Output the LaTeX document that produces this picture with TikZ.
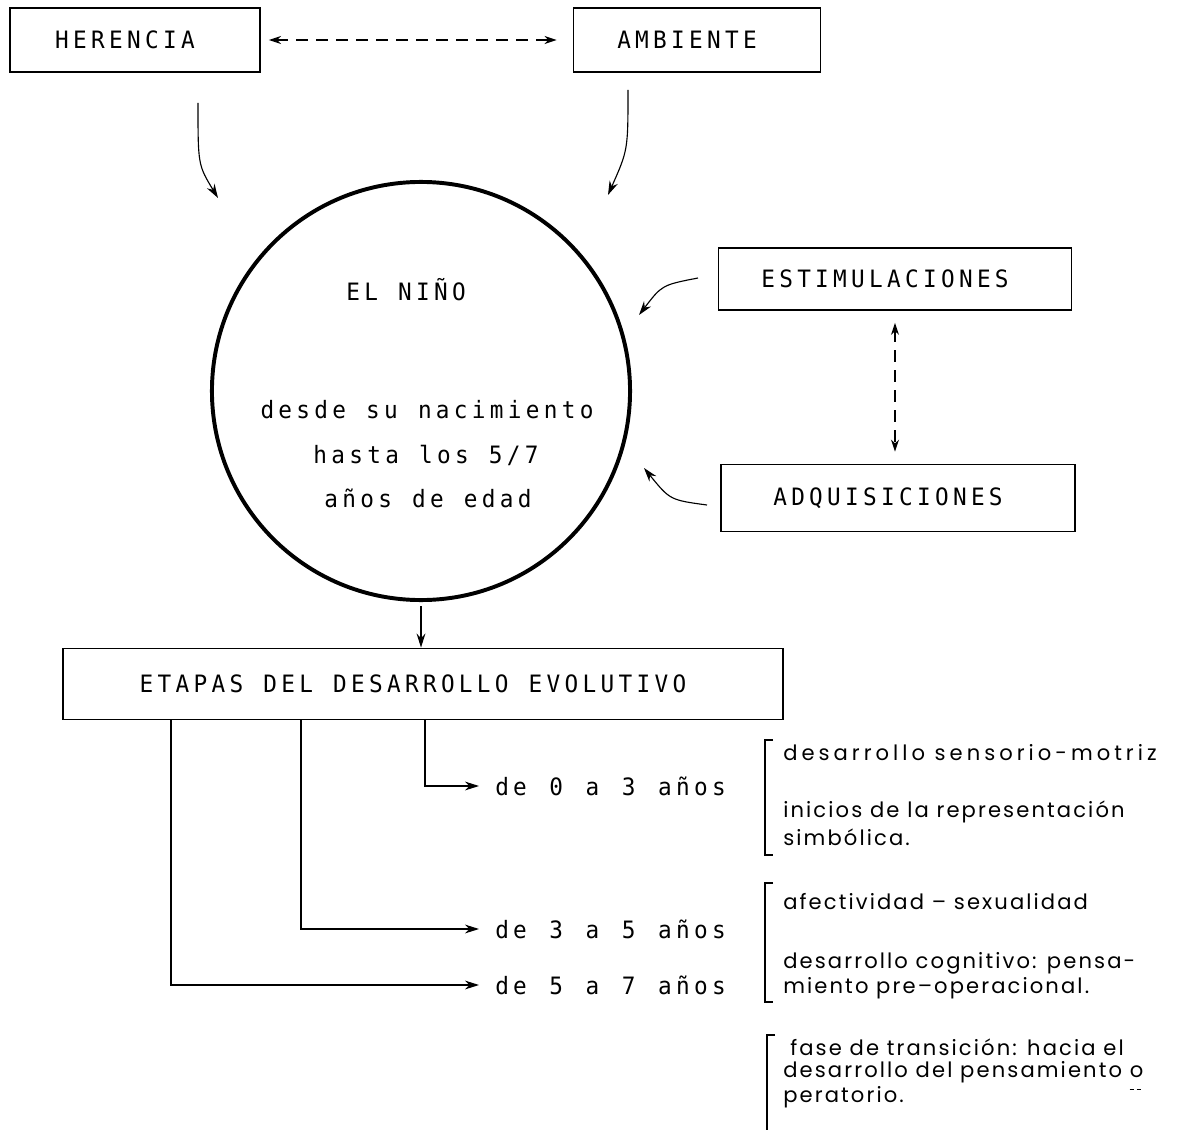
\documentclass[tikz,border=0pt]{standalone}
\usepackage{fontspec}
\usetikzlibrary{arrows.meta}
\usetikzlibrary{calc}
\newfontfamily\typefont[FakeStretch=0.95,LetterSpace=18]{DejaVu Sans Mono}
\newfontfamily\agefont[FakeStretch=0.95,LetterSpace=18,WordSpace=1.12]{DejaVu Sans Mono}
\newfontfamily\notefont[LetterSpace=10]{Poppins}
\newfontfamily\notewide[LetterSpace=19]{Poppins}
\tikzstyle{box} = [rectangle, draw, line width=1.3pt,
    font={\typefont\fontsize{17}{20}\selectfont}, execute at begin node={\hspace*{-5mm}}]
\tikzstyle{kid} = [circle, draw, line width=2.8pt, minimum size=10.45cm]
\tikzstyle{typed} = [font={\typefont\fontsize{17}{20}\selectfont}, inner sep=0pt]
\tikzstyle{age} = [font={\agefont\fontsize{17}{20}\selectfont}, inner sep=0pt, anchor=west]
\tikzstyle{note} = [font={\notefont\fontsize{15}{18}\selectfont}, anchor=west, inner sep=0pt]
\tikzstyle{line} = [draw, line width=0.8pt, -{Stealth[length=3.5mm, width=2.2mm]}]
\tikzstyle{dline} = [draw, line width=1pt, dash pattern=on 3mm off 2mm,
    {Stealth[length=3mm, width=2mm]}-{Stealth[length=3mm, width=2mm]}]
\tikzstyle{brace} = [draw, line width=1pt]

\begin{document}
\begin{tikzpicture}[x=0.025cm, y=-0.025cm]
    \useasboundingbox (0,0) rectangle (1179,1130);
    % Place nodes
    \node[box, minimum width=6.25cm, minimum height=1.6cm] (herencia) at (135,40) {HERENCIA};
    \node[box, minimum width=6.175cm, minimum height=1.6cm] (ambiente) at (697,40) {AMBIENTE};
    \node[kid] (nino) at (421,391) {};
    \node[typed] (ninotitle) at (406,290) {EL NIÑO};
    \node[typed] (span1) at (427,410) {desde su nacimiento};
    \node[typed] (span2) at (426,455) {hasta los 5/7};
    \node[typed] (span3) at (428,498) {años de edad};
    \node[box, minimum width=8.825cm, minimum height=1.55cm] (estim) at (895,279) {ESTIMULACIONES};
    \node[box, minimum width=8.85cm, minimum height=1.675cm] (adq) at (898,498) {ADQUISICIONES};
    \node[box, minimum width=18cm, minimum height=1.775cm] (etapas) at (423,684) {ETAPAS DEL DESARROLLO EVOLUTIVO};
    \node[age] (age1) at (495,786) {de 0 a 3 años};
    \node[age] (age2) at (495,929) {de 3 a 5 años};
    \node[age] (age3) at (495,985) {de 5 a 7 años};
    % Notes
    \node[note, font={\notewide\fontsize{15}{18}\selectfont}] (t1a) at (783,753) {desarrollo sensorio-motriz};
    \node[note] (t1b) at (783,812) {inicios de la representación};
    \node[note] (t1c) at (783,837) {simbólica.};
    \node[note] (t2a) at (783,902) {afectividad – sexualidad};
    \node[note] (t2b) at (783,963) {desarrollo cognitivo: pensa-};
    \node[note] (t2c) at (783,988) {miento pre–operacional.};
    \node[note] (t3a) at (790,1047) {fase de transición: hacia el};
    \node[note] (t3b) at (783,1072) {desarrollo del pensamiento o};
    \node[note] (t3c) at (783,1097) {peratorio.};
    % Free ends
    \coordinate (h1) at (198,103);
    \coordinate (h2) at (218,198);
    \coordinate (a1) at (628,90);
    \coordinate (a2) at (608,195);
    \coordinate (e1) at (698,278);
    \coordinate (e2) at (639,315);
    \coordinate (q1) at (707,505);
    \coordinate (q2) at (644,468);
    \coordinate (b1) at (425,720);
    \coordinate (b2) at (301,720);
    \coordinate (b3) at (171,720);
    % Draw edges
    \path[dline, shorten <=2mm, shorten >=4mm] (herencia.east) -- (herencia.east -| ambiente.west);
    \path[dline, shorten <=3mm, shorten >=3mm] (estim.south) -- (estim.south |- adq.north);
    \path[line] (h1) .. controls (198,165) .. (h2);
    \path[line] (a1) .. controls (628,150) .. (a2);
    \path[line] (e1) .. controls (662,285) .. (e2);
    \path[line] (q1) .. controls (670,500) .. (q2);
    \path[line, shorten <=1mm] (nino.south) -- (nino.south |- etapas.north);
    \path[line, shorten >=4mm] (b1) |- (age1.west);
    \path[line, shorten >=4mm] (b2) |- (age2.west);
    \path[line, shorten >=4mm] (b3) |- (age3.west);
    % Draw brackets
    \draw[brace] (773,740) -- (765,740) -- (765,855) -- (773,855);
    \draw[brace] (773,883) -- (765,883) -- (765,1002) -- (773,1002);
    \draw[brace] (775,1035) -- (767,1035) -- (767,1130);
    \draw[densely dashed, line width=0.6pt] ($(t3b.south east)+(-14,6)$) -- ($(t3b.south east)+(-3,6)$);
\end{tikzpicture}
\end{document}
